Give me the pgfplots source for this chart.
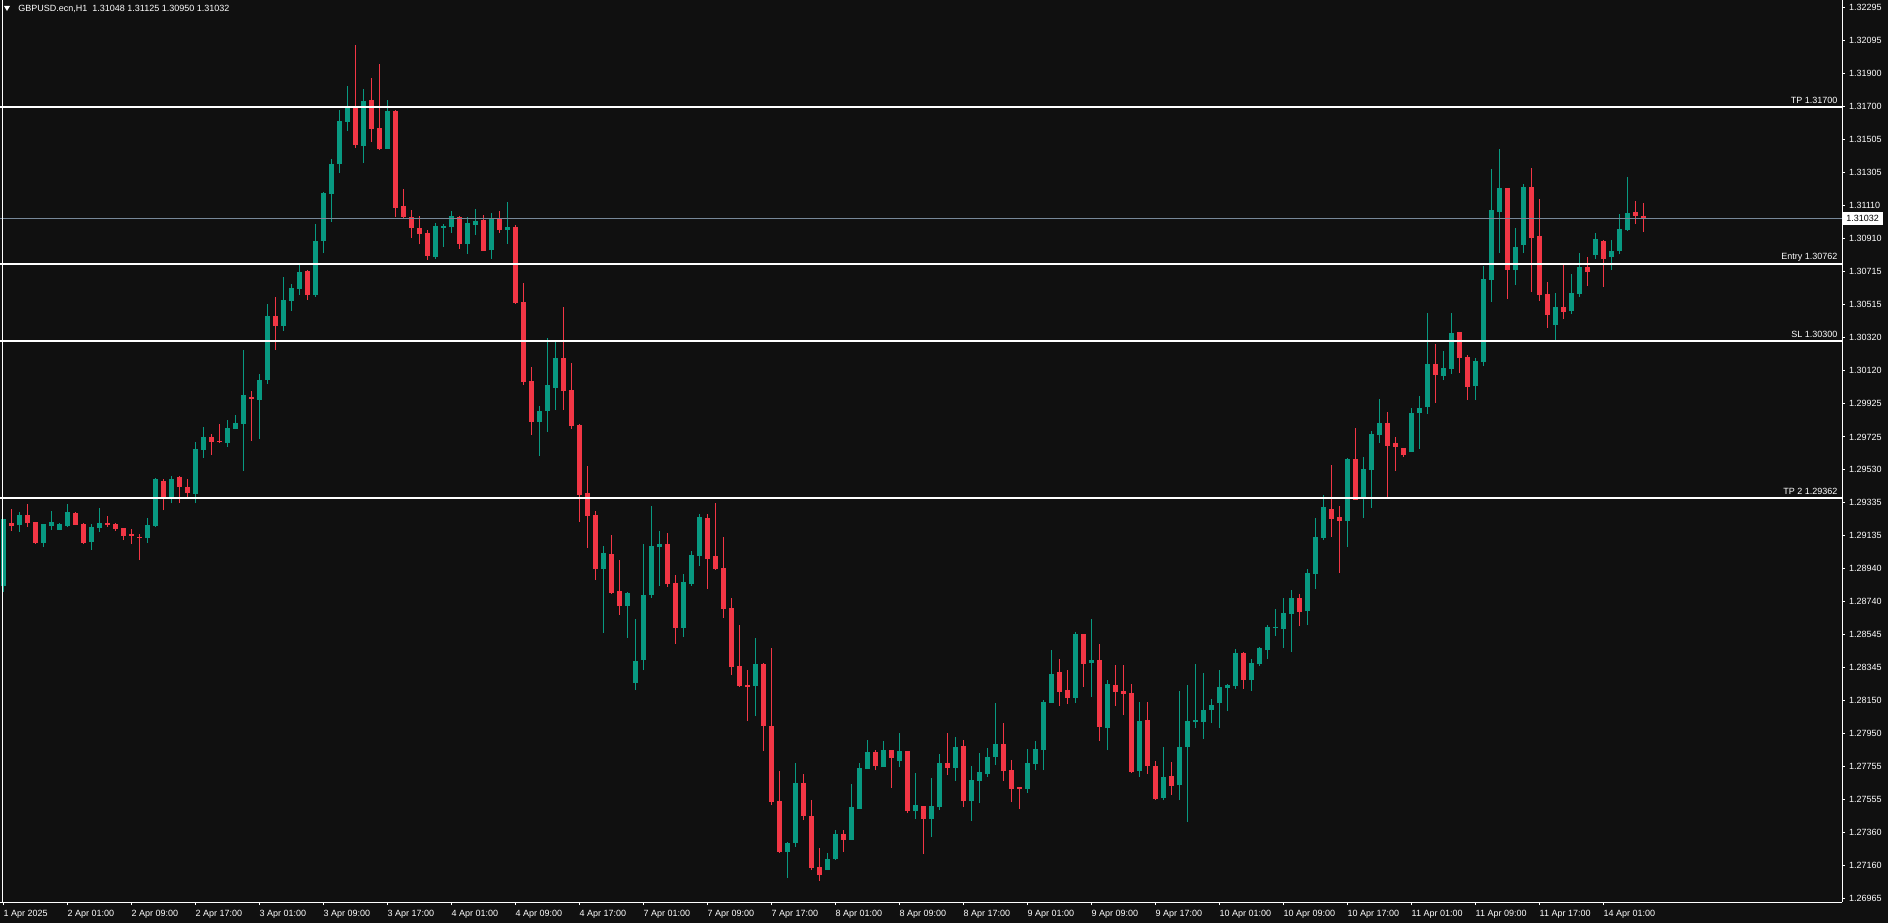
\documentclass[border=0pt]{standalone}
\usepackage{fontspec}
\setmainfont{Liberation Sans}
\usepackage{pgfplots}
\usepackage{pgfplotstable}
\pgfplotsset{compat=1.18}

\definecolor{bg}{RGB}{16,16,16}
\definecolor{bull}{RGB}{8,153,129}
\definecolor{bear}{RGB}{242,54,69}
\definecolor{bidline}{RGB}{119,136,153}
\newcommand\mt{\fontsize{4.5pt}{5.4pt}\selectfont}

% GBPUSD H1 rising candles (close >= open)
\pgfplotstableread{
k O H L C
0 1.28834 1.29234 1.28798 1.29234
2 1.29198 1.29276 1.29158 1.29258
5 1.29091 1.29204 1.29069 1.29204
6 1.29192 1.29282 1.29169 1.29216
7 1.29169 1.29210 1.29169 1.29204
8 1.29192 1.29324 1.29186 1.29276
11 1.29097 1.29204 1.29049 1.29186
12 1.29180 1.29300 1.29157 1.29210
18 1.29121 1.29240 1.29091 1.29198
19 1.29192 1.29480 1.29186 1.29474
21 1.29368 1.29492 1.29328 1.29476
24 1.29384 1.29695 1.29328 1.29653
25 1.29649 1.29785 1.29601 1.29725
28 1.29691 1.29826 1.29667 1.29779
29 1.29774 1.29856 1.29774 1.29808
30 1.29804 1.30245 1.29523 1.29976
32 1.29948 1.30101 1.29715 1.30065
33 1.30067 1.30520 1.30043 1.30448
35 1.30390 1.30682 1.30360 1.30544
36 1.30540 1.30640 1.30480 1.30616
37 1.30612 1.30755 1.30576 1.30712
39 1.30576 1.30998 1.30564 1.30897
40 1.30899 1.31190 1.30825 1.31184
41 1.31180 1.31387 1.31012 1.31357
42 1.31359 1.31680 1.31305 1.31614
43 1.31610 1.31824 1.31556 1.31692
45 1.31467 1.31806 1.31365 1.31734
48 1.31449 1.31740 1.31449 1.31674
54 1.30803 1.31004 1.30791 1.30986
55 1.30977 1.30998 1.30863 1.30986
56 1.30982 1.31076 1.30946 1.31046
58 1.30881 1.31040 1.30821 1.31004
59 1.30994 1.31088 1.30934 1.31016
61 1.30844 1.31064 1.30791 1.31034
63 1.30964 1.31130 1.30881 1.30980
67 1.29816 1.29910 1.29613 1.29880
68 1.29882 1.30317 1.29756 1.30036
69 1.30018 1.30293 1.29888 1.30197
75 1.28937 1.29073 1.28554 1.29031
78 1.28716 1.28798 1.28525 1.28792
79 1.28256 1.28636 1.28212 1.28385
80 1.28391 1.29085 1.28331 1.28780
81 1.28780 1.29312 1.28762 1.29073
82 1.29067 1.29163 1.28834 1.29085
85 1.28583 1.28906 1.28529 1.28858
86 1.28846 1.29043 1.28834 1.29019
87 1.29013 1.29264 1.28953 1.29246
94 1.28236 1.28523 1.28056 1.28367
98 1.27243 1.27303 1.27088 1.27297
99 1.27297 1.27775 1.27273 1.27656
103 1.27135 1.27237 1.27135 1.27201
104 1.27201 1.27375 1.27195 1.27351
106 1.27315 1.27650 1.27315 1.27512
107 1.27500 1.27775 1.27500 1.27745
108 1.27739 1.27913 1.27739 1.27841
110 1.27751 1.27907 1.27751 1.27853
112 1.27787 1.27955 1.27751 1.27847
114 1.27488 1.27715 1.27440 1.27524
116 1.27440 1.27686 1.27333 1.27518
117 1.27512 1.27829 1.27494 1.27775
119 1.27745 1.27931 1.27668 1.27871
121 1.27548 1.27757 1.27428 1.27674
122 1.27668 1.27835 1.27536 1.27721
123 1.27710 1.27865 1.27692 1.27811
124 1.27811 1.28134 1.27763 1.27889
128 1.27620 1.27859 1.27596 1.27775
129 1.27769 1.27907 1.27733 1.27859
130 1.27853 1.28152 1.27733 1.28140
131 1.28134 1.28451 1.28134 1.28307
134 1.28164 1.28559 1.28134 1.28547
136 1.28373 1.28636 1.28170 1.28391
138 1.27985 1.28272 1.27853 1.28248
142 1.27727 1.28140 1.27692 1.28026
145 1.27566 1.27871 1.27554 1.27692
147 1.27644 1.28206 1.27554 1.27871
148 1.27871 1.28242 1.27422 1.28026
149 1.28020 1.28367 1.27985 1.28032
150 1.28020 1.28313 1.27919 1.28092
151 1.28092 1.28158 1.28014 1.28122
152 1.28134 1.28331 1.27985 1.28230
153 1.28224 1.28248 1.28086 1.28242
154 1.28236 1.28457 1.28218 1.28433
156 1.28272 1.28397 1.28206 1.28373
157 1.28367 1.28469 1.28355 1.28463
158 1.28451 1.28600 1.28397 1.28588
159 1.28584 1.28696 1.28535 1.28588
160 1.28576 1.28762 1.28463 1.28672
161 1.28666 1.28810 1.28439 1.28762
163 1.28684 1.28936 1.28600 1.28912
164 1.28906 1.29240 1.28816 1.29127
165 1.29121 1.29378 1.29109 1.29306
168 1.29222 1.29599 1.29067 1.29593
170 1.29366 1.29605 1.29240 1.29533
171 1.29527 1.29761 1.29300 1.29743
172 1.29737 1.29952 1.29689 1.29808
176 1.29635 1.29898 1.29635 1.29868
177 1.29868 1.29970 1.29653 1.29898
178 1.29904 1.30466 1.29862 1.30161
180 1.30089 1.30239 1.30065 1.30137
181 1.30131 1.30466 1.30101 1.30347
184 1.30029 1.30197 1.29946 1.30179
185 1.30173 1.30747 1.30149 1.30670
186 1.30664 1.31327 1.30532 1.31082
187 1.31070 1.31446 1.30825 1.31214
189 1.30723 1.30975 1.30634 1.30861
190 1.30873 1.31238 1.30825 1.31220
194 1.30394 1.30586 1.30305 1.30502
196 1.30478 1.30700 1.30460 1.30586
197 1.30580 1.30825 1.30562 1.30741
199 1.30813 1.30945 1.30789 1.30909
201 1.30801 1.30903 1.30723 1.30837
202 1.30837 1.31058 1.30819 1.30969
203 1.30963 1.31279 1.30957 1.31064
}\bulls

% falling candles (close < open)
\pgfplotstableread{
k O H L C
1 1.29210 1.29294 1.29164 1.29194
3 1.29258 1.29324 1.29188 1.29210
4 1.29216 1.29216 1.29085 1.29089
9 1.29270 1.29276 1.29198 1.29198
10 1.29204 1.29210 1.29085 1.29091
13 1.29210 1.29252 1.29186 1.29198
14 1.29204 1.29210 1.29163 1.29174
15 1.29180 1.29180 1.29109 1.29133
16 1.29145 1.29174 1.29085 1.29133
17 1.29127 1.29145 1.28989 1.29121
20 1.29462 1.29474 1.29288 1.29366
22 1.29488 1.29492 1.29332 1.29428
23 1.29426 1.29476 1.29368 1.29392
26 1.29725 1.29743 1.29619 1.29697
27 1.29701 1.29803 1.29691 1.29695
31 1.29964 1.30000 1.29703 1.29952
34 1.30448 1.30562 1.30247 1.30390
38 1.30718 1.30724 1.30546 1.30576
44 1.31692 1.32069 1.31455 1.31473
46 1.31740 1.31872 1.31491 1.31568
47 1.31573 1.31955 1.31443 1.31449
49 1.31674 1.31680 1.31042 1.31096
50 1.31106 1.31208 1.31028 1.31042
51 1.31040 1.31082 1.30917 1.30977
52 1.30975 1.31046 1.30877 1.30941
53 1.30945 1.30963 1.30785 1.30809
57 1.31040 1.31046 1.30851 1.30881
60 1.31024 1.31052 1.30838 1.30838
62 1.31034 1.31076 1.30946 1.30964
64 1.30980 1.30992 1.30522 1.30528
65 1.30532 1.30646 1.30038 1.30056
66 1.30060 1.30143 1.29739 1.29816
70 1.30197 1.30502 1.29888 1.30000
71 1.30005 1.30167 1.29774 1.29792
72 1.29797 1.29803 1.29218 1.29380
73 1.29390 1.29551 1.29063 1.29254
74 1.29258 1.29282 1.28871 1.28937
76 1.29025 1.29139 1.28787 1.28793
77 1.28804 1.28989 1.28662 1.28716
83 1.29085 1.29151 1.28828 1.28846
84 1.28852 1.28900 1.28487 1.28583
88 1.29240 1.29264 1.28816 1.28995
89 1.29013 1.29330 1.28930 1.28936
90 1.28942 1.29127 1.28642 1.28696
91 1.28702 1.28762 1.28302 1.28349
92 1.28355 1.28600 1.28230 1.28236
93 1.28242 1.28331 1.28026 1.28230
95 1.28367 1.28373 1.27847 1.27997
96 1.27997 1.28463 1.27524 1.27542
97 1.27548 1.27727 1.27237 1.27243
100 1.27656 1.27710 1.27434 1.27458
101 1.27458 1.27554 1.27135 1.27147
102 1.27153 1.27267 1.27070 1.27106
105 1.27351 1.27375 1.27243 1.27315
109 1.27841 1.27853 1.27733 1.27757
111 1.27853 1.27853 1.27626 1.27805
113 1.27847 1.27847 1.27476 1.27488
115 1.27518 1.27518 1.27231 1.27440
118 1.27775 1.27955 1.27703 1.27745
120 1.27877 1.27913 1.27512 1.27548
125 1.27889 1.28014 1.27668 1.27727
126 1.27733 1.27793 1.27542 1.27620
127 1.27632 1.27632 1.27500 1.27620
132 1.28319 1.28397 1.28116 1.28200
133 1.28212 1.28331 1.28128 1.28164
135 1.28547 1.28547 1.28230 1.28367
137 1.28391 1.28487 1.27907 1.27991
139 1.28242 1.28361 1.28116 1.28200
140 1.28206 1.28361 1.28062 1.28188
141 1.28194 1.28248 1.27715 1.27721
143 1.28032 1.28140 1.27710 1.27757
144 1.27757 1.27787 1.27554 1.27560
146 1.27698 1.27781 1.27584 1.27638
155 1.28433 1.28439 1.28218 1.28272
162 1.28762 1.28786 1.28594 1.28678
166 1.29294 1.29557 1.29127 1.29234
167 1.29246 1.29312 1.28912 1.29222
169 1.29593 1.29779 1.29348 1.29348
173 1.29808 1.29874 1.29366 1.29671
174 1.29689 1.29725 1.29521 1.29665
175 1.29659 1.29659 1.29605 1.29617
179 1.30161 1.30281 1.29928 1.30096
182 1.30353 1.30353 1.30107 1.30197
183 1.30203 1.30215 1.29946 1.30023
188 1.31214 1.31214 1.30550 1.30723
191 1.31220 1.31333 1.30592 1.30915
192 1.30927 1.31148 1.30538 1.30574
193 1.30580 1.30652 1.30377 1.30454
195 1.30502 1.30753 1.30430 1.30472
198 1.30741 1.30801 1.30628 1.30711
200 1.30897 1.30903 1.30622 1.30789
204 1.31070 1.31136 1.30998 1.31046
205 1.31048 1.31125 1.30950 1.31032
}\bears

\begin{document}
\begin{tikzpicture}
\useasboundingbox (0,0) rectangle (944pt,461.5pt);
\fill[bg] (0,0) rectangle (944pt,461.5pt);

\begin{axis}[
    at={(0pt,10.5pt)}, anchor=south west,
    scale only axis, width=921pt, height=451pt,
    xmin=-0.4125, xmax=229.8375,
    ymin=1.26944, ymax=1.32338,
    clip=false,
    axis x line*=bottom, axis y line*=right,
    axis line style={white, line width=0.5pt, -},
    tick align=outside, major tick length=1.5pt,
    tick style={white, line width=0.5pt},
    xtick={0,8,...,200},
    xticklabels={1 Apr 2025, 2 Apr 01:00, 2 Apr 09:00, 2 Apr 17:00, 3 Apr 01:00,
      3 Apr 09:00, 3 Apr 17:00, 4 Apr 01:00, 4 Apr 09:00, 4 Apr 17:00,
      7 Apr 01:00, 7 Apr 09:00, 7 Apr 17:00, 8 Apr 01:00, 8 Apr 09:00,
      8 Apr 17:00, 9 Apr 01:00, 9 Apr 09:00, 9 Apr 17:00, 10 Apr 01:00,
      10 Apr 09:00, 10 Apr 17:00, 11 Apr 01:00, 11 Apr 09:00, 11 Apr 17:00,
      14 Apr 01:00},
    ytick={1.26965,1.27160,1.27360,1.27555,1.27755,1.27950,1.28150,1.28345,
      1.28545,1.28740,1.28940,1.29135,1.29335,1.29530,1.29725,1.29925,
      1.30120,1.30320,1.30515,1.30715,1.30910,1.31110,1.31305,1.31505,
      1.31700,1.31900,1.32095,1.32295},
    yticklabels={1.26965,1.27160,1.27360,1.27555,1.27755,1.27950,1.28150,1.28345,
      1.28545,1.28740,1.28940,1.29135,1.29335,1.29530,1.29725,1.29925,
      1.30120,1.30320,1.30515,1.30715,1.30910,1.31110,1.31305,1.31505,
      1.31700,1.31900,1.32095,1.32295},
    ticklabel style={font=\mt, text=white, inner sep=0pt},
    xticklabel style={anchor=north west, yshift=-2.3pt},
    yticklabel style={anchor=west, xshift=1.8pt},
]

% wicks: low to high
\addplot[bull, line width=0.5pt, mark=none, forget plot,
  quiver={u=0, v=\thisrow{H}-\thisrow{L}}]
  table[x=k, y=L] {\bulls};
\addplot[bear, line width=0.5pt, mark=none, forget plot,
  quiver={u=0, v=\thisrow{H}-\thisrow{L}}]
  table[x=k, y=L] {\bears};
% bodies: open to close
\addplot[bull, line width=2.5pt, mark=none, forget plot,
  quiver={u=0, v=\thisrow{C}-\thisrow{O}}]
  table[x=k, y=O] {\bulls};
\addplot[bear, line width=2.5pt, mark=none, forget plot,
  quiver={u=0, v=\thisrow{C}-\thisrow{O}}]
  table[x=k, y=O] {\bears};

% levels
\addplot[bidline, line width=0.5pt, forget plot] coordinates {(-0.4125,1.31032) (229.8375,1.31032)};
\addplot[white, line width=1pt, forget plot] coordinates {(-0.4125,1.31700) (229.8375,1.31700)};
\addplot[white, line width=1pt, forget plot] coordinates {(-0.4125,1.30762) (229.8375,1.30762)};
\addplot[white, line width=1pt, forget plot] coordinates {(-0.4125,1.30300) (229.8375,1.30300)};
\addplot[white, line width=1pt, forget plot] coordinates {(-0.4125,1.29362) (229.8375,1.29362)};

\node[anchor=base east, inner sep=0pt, text=white, font=\mt, yshift=1.8pt] at (axis cs:229.3,1.31700) {TP 1.31700};
\node[anchor=base east, inner sep=0pt, text=white, font=\mt, yshift=1.8pt] at (axis cs:229.3,1.30762) {Entry 1.30762};
\node[anchor=base east, inner sep=0pt, text=white, font=\mt, yshift=1.8pt] at (axis cs:229.3,1.30300) {SL 1.30300};
\node[anchor=base east, inner sep=0pt, text=white, font=\mt, yshift=1.8pt] at (axis cs:229.3,1.29362) {TP 2 1.29362};

\node[anchor=west, fill=white, text=black, font=\mt, inner xsep=2pt, inner ysep=0pt,
  minimum height=6.3pt] at (axis cs:229.8375,1.31032) {1.31032};
\end{axis}

\draw[white, line width=0.5pt] (1.3pt,10.5pt) -- (1.3pt,461.5pt);
\fill[white] (2pt,458.5pt) -- (5pt,458.5pt) -- (3.5pt,456pt) -- cycle;
\node[anchor=base west, inner sep=0pt, text=white, font=\mt] at (9pt,455.6pt)
  {GBPUSD.ecn,H1\ \ 1.31048 1.31125 1.30950 1.31032};
\end{tikzpicture}
\end{document}
